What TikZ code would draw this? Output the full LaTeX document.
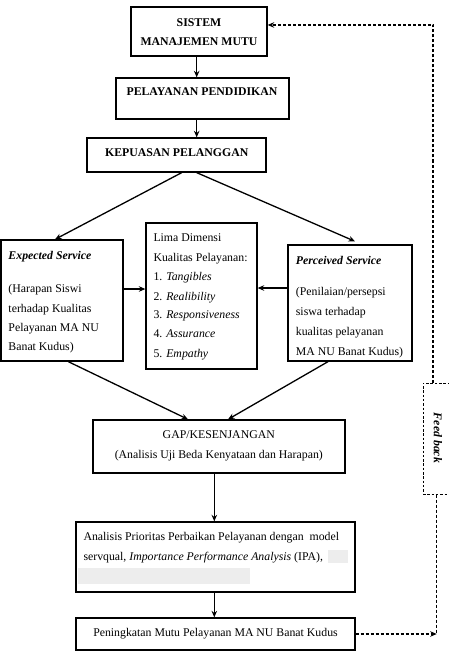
\documentclass[tikz,border=0pt]{standalone}
\usepackage{fontspec}
\setmainfont{Liberation Serif}
\usetikzlibrary{arrows.meta,calc}
\begin{document}
\begin{tikzpicture}[x=1pt,y=-1pt,
  box/.style={draw,line width=1.3pt,rectangle,inner sep=0pt},
  txt/.style={inner sep=0pt,font=\fontsize{11.8}{19.4}\selectfont},
  bt/.style={txt,font=\fontsize{11.8}{19.4}\selectfont\bfseries},
  arr/.style={line width=1.3pt,-{Stealth[length=6.5pt,width=5.5pt]}},
  dsh/.style={line width=1.1pt,dash pattern=on 3pt off 2pt},
  darr/.style={dsh,-{Stealth[length=6.5pt,width=5.5pt]}}]
\useasboundingbox[fill=white] (0,0) rectangle (448,655);
% boxes
\node[box,minimum width=136pt,minimum height=49pt] (sis) at (199,31.5) {};
\node[box,minimum width=173pt,minimum height=41pt] (pel) at (202.5,98.5) {};
\node[box,minimum width=179pt,minimum height=34pt] (kep) at (176.5,155) {};
\node[box,minimum width=122pt,minimum height=121pt] (exp) at (62,300.5) {};
\node[box,minimum width=111pt,minimum height=146pt] (lim) at (201.5,296) {};
\node[box,minimum width=124pt,minimum height=116pt] (per) at (350,303) {};
\node[box,minimum width=252pt,minimum height=53pt] (gap) at (219,446.5) {};
\node[box,minimum width=279pt,minimum height=70pt] (ana) at (215.5,557) {};
\node[box,minimum width=279pt,minimum height=32pt] (pen) at (215.5,634) {};
\node[draw,line width=1pt,dash pattern=on 2.5pt off 1.8pt,inner sep=0pt,minimum width=29pt,minimum height=111pt] (fb) at (437.5,438.5) {};
% texts
\node[bt,anchor=base] (s1) at (199,26.3) {SISTEM};
\node[bt,anchor=base] (s2) at (199,45.7) {MANAJEMEN MUTU};
\node[bt,anchor=base] (p1) at (202,96) {PELAYANAN PENDIDIKAN};
\node[bt,anchor=base] (k1) at (176.7,157) {KEPUASAN PELANGGAN};
\node[bt,anchor=base west] (e0) at (8.3,259) {\itshape Expected Service};
\node[txt,anchor=base west] (e1) at (8.3,292.3) {(Harapan Siswi};
\node[txt,anchor=base west] (e2) at (8.3,312.3) {terhadap Kualitas};
\node[txt,anchor=base west] (e3) at (8.3,331.7) {Pelayanan MA NU};
\node[txt,anchor=base west] (e4) at (8.3,350.7) {Banat Kudus)};
\node[txt,anchor=base west] (l1) at (153.3,241.3) {Lima Dimensi};
\node[txt,anchor=base west] (l2) at (153.3,261.3) {Kualitas Pelayanan:};
\node[txt,anchor=base west] (l3) at (153.3,280.7) {1. \textit{Tangibles}};
\node[txt,anchor=base west] (l4) at (153.3,300) {2. \textit{Realibility}};
\node[txt,anchor=base west] (l5) at (153.3,318.3) {3. \textit{Responsiveness}};
\node[txt,anchor=base west] (l6) at (153.3,337.3) {4. \textit{Assurance}};
\node[txt,anchor=base west] (l7) at (153.3,357.3) {5. \textit{Empathy}};
\node[bt,anchor=base west] (r0) at (295.7,264.7) {\itshape Perceived Service};
\node[txt,anchor=base west] (r1) at (295.7,295.7) {(Penilaian/persepsi};
\node[txt,anchor=base west] (r2) at (295.7,315.7) {siswa terhadap};
\node[txt,anchor=base west] (r3) at (295.7,335) {kualitas pelayanan};
\node[txt,anchor=base west] (r4) at (295.7,355.7) {MA NU Banat Kudus)};
\node[txt,anchor=base] (g1) at (218.8,438) {GAP/KESENJANGAN};
\node[txt,anchor=base] (g2) at (218.8,458) {(Analisis Uji Beda Kenyataan dan Harapan)};
\node[txt,anchor=base west] (a1) at (83.3,540.7) {Analisis Prioritas Perbaikan Pelayanan dengan\ \ model};
\node[txt,anchor=base west] (a2) at (83.3,560.7) {servqual, \textit{Importance Performance Analysis} (IPA),};
\fill[black!7] (328,550) rectangle (348,563);
\fill[black!7] (78,568) rectangle (250,584);
\node[txt,anchor=base] (n1) at (215.5,636.3) {Peningkatan Mutu Pelayanan MA NU Banat Kudus};
\node[bt,rotate=-90] (f1) at (438,438) {\itshape Feed back};
% connectors
\draw[arr] ([xshift=-2.3pt]sis.south) -- ([xshift=-2.3pt]sis.south |- pel.north);
\draw[arr] ([xshift=-2.3pt]sis.south |- pel.south) -- ([xshift=-2.3pt]sis.south |- kep.north);
\draw[arr] ([xshift=5.2pt]kep.south) -- ([xshift=-7pt]exp.north);
\draw[arr] ([xshift=20.2pt]kep.south) -- ([xshift=5pt,yshift=3pt]per.north);
\draw[arr] ([yshift=11.5pt]exp.east) -- ([yshift=11.5pt]exp.east -| lim.west);
\draw[arr] ([yshift=15pt]per.west) -- ([yshift=15pt]per.west -| lim.east);
\draw[arr] ([xshift=6.3pt]exp.south) -- ([xshift=-31pt]gap.north);
\draw[arr] ([xshift=-22pt]per.south) -- ([xshift=9pt]gap.north);
\draw[arr] ([xshift=-4.7pt]gap.south) -- ([xshift=-4.7pt]gap.south |- ana.north);
\draw[arr] ([xshift=-1.2pt]ana.south) -- ([xshift=-1.2pt]ana.south |- pen.north);
\coordinate (c1) at ([xshift=-0.8pt]fb.south |- pen.east);
\draw[darr] (pen.east) -- (c1);
\draw[dsh] ([xshift=-0.8pt]fb.south) -- (c1);
\draw[darr] ([xshift=-4.5pt]fb.north) |- ([yshift=6.5pt]sis.east);
\end{tikzpicture}
\end{document}
